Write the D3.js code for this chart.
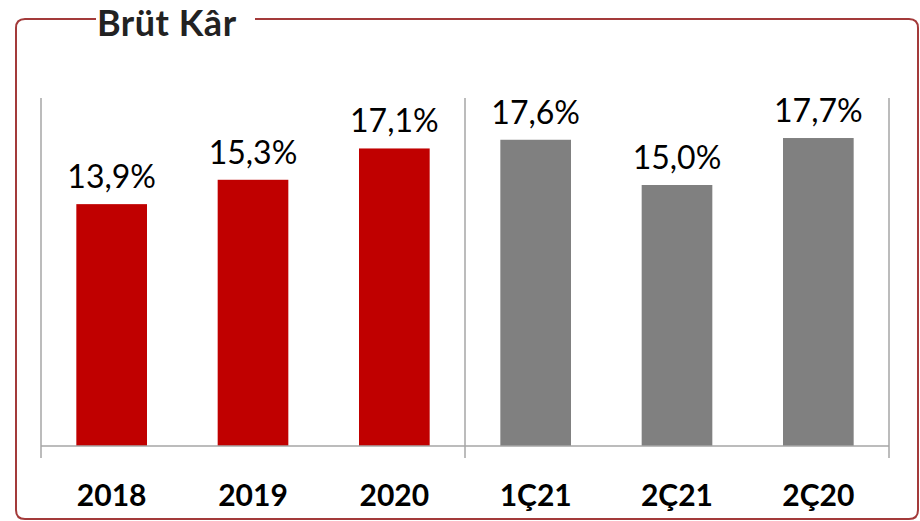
<!DOCTYPE html>
<html>
<head>
<meta charset="utf-8">
<script src="https://cdn.jsdelivr.net/npm/d3@7"></script>
<style>
  body { margin: 0; background: #fff; }
  text { font-family: Lato, "Open Sans", sans-serif; }
</style>
</head>
<body>
<div id="chart"></div>
<script>
var categories = ['2018', '2019', '2020', '1Ç21', '2Ç21', '2Ç20'];
var values = [13.9, 15.3, 17.1, 17.6, 15.0, 17.7];
var groups = ['year', 'year', 'year', 'quarter', 'quarter', 'quarter'];
var title = 'Brüt Kâr';

var width = 920;
var height = 521;
var margin = { top: 98, bottom: 73, left: 41, right: 31 };

var colors = { year: '#C00000', quarter: '#808080' };

var svg = d3.select('#chart')
  .append('svg')
  .attr('width', width)
  .attr('height', height);

// frame with gap for the title
var fl = 16, ft = 19, fr = 918, fb = 519, r = 9;
var gapL = 96, gapR = 255;
svg.append('path')
  .attr('d', `M${gapL},${ft} H${fl + r} Q${fl},${ft} ${fl},${ft + r} V${fb - r} Q${fl},${fb} ${fl + r},${fb} H${fr - r} Q${fr},${fb} ${fr},${fb - r} V${ft + r} Q${fr},${ft} ${fr - r},${ft} H${gapR}`)
  .attr('fill', 'none')
  .attr('stroke', '#A33A3A')
  .attr('stroke-width', 2);

svg.append('text')
  .attr('x', 97)
  .attr('y', 36)
  .attr('font-size', '36px')
  .attr('font-weight', 'bold')
  .attr('letter-spacing', '0.5px')
  .attr('fill', '#222')
  .text(title);

var x = d3.scaleBand()
  .domain(categories)
  .range([margin.left, width - margin.right])
  .paddingInner(0.5)
  .paddingOuter(0.25);

var y = d3.scaleLinear()
  .domain([0, 20])
  .range([height - margin.bottom - 2, margin.top]);

var axisColor = '#A6A6A6';
var y0 = y(0);

// vertical lines: left, divider, right
var divX = x(categories[3]) - x.step() * 0.25;
[margin.left, divX, width - margin.right].forEach(function (xx) {
  svg.append('line')
    .attr('x1', xx).attr('x2', xx)
    .attr('y1', y.range()[1]).attr('y2', y0 + 12)
    .attr('stroke', axisColor)
    .attr('stroke-width', 1.5);
});

svg.append('g')
  .selectAll('rect')
  .data(values)
  .join('rect')
  .attr('x', (d, i) => x(categories[i]))
  .attr('y', d => y(d))
  .attr('width', x.bandwidth())
  .attr('height', d => y0 - y(d))
  .attr('fill', (d, i) => colors[groups[i]]);

svg.append('line')
  .attr('x1', margin.left).attr('x2', width - margin.right)
  .attr('y1', y0).attr('y2', y0)
  .attr('stroke', axisColor)
  .attr('stroke-width', 1.5);

// value labels
svg.append('g')
  .selectAll('text')
  .data(values)
  .join('text')
  .attr('x', (d, i) => x(categories[i]) + x.bandwidth() / 2)
  .attr('y', d => y(d) - 16)
  .attr('text-anchor', 'middle')
  .attr('font-size', '32px')
  .attr('fill', '#000')
  .text(d => d.toFixed(1).replace('.', ',') + '%');

// category labels
svg.append('g')
  .selectAll('text')
  .data(categories)
  .join('text')
  .attr('x', d => x(d) + x.bandwidth() / 2)
  .attr('y', 506)
  .attr('text-anchor', 'middle')
  .attr('font-size', '30px')
  .attr('font-weight', 'bold')
  .attr('fill', '#000')
  .text(d => d);
</script>
</body>
</html>
